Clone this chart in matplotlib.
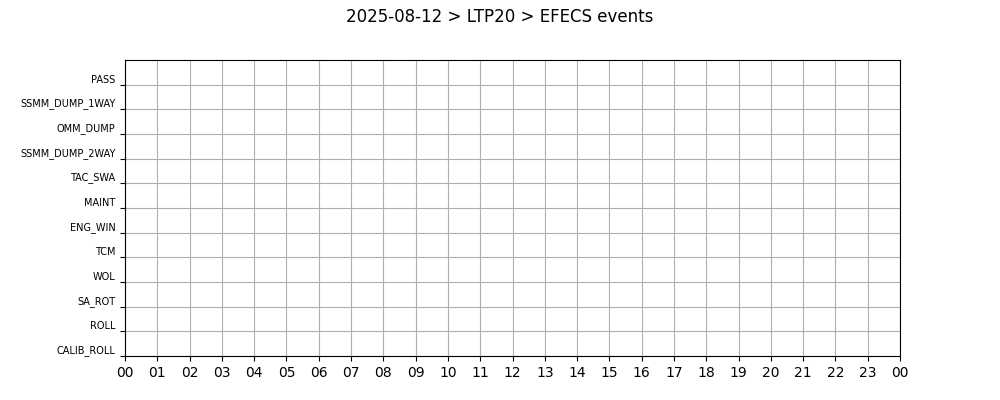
import matplotlib
matplotlib.use("Agg")
import matplotlib.pyplot as plt
import matplotlib.dates as mdates
from datetime import datetime, timedelta

day = "2025-08-12"
title = "2025-08-12 > LTP20 > EFECS events"
categories = ["CALIB_ROLL", "ROLL", "SA_ROT", "WOL", "TCM", "ENG_WIN",
              "MAINT", "TAC_SWA", "SSMM_DUMP_2WAY", "OMM_DUMP",
              "SSMM_DUMP_1WAY", "PASS"]

start = datetime.strptime(day, "%Y-%m-%d")
end = start + timedelta(days=1)

fig = plt.figure(figsize=(10, 4), dpi=100)
ax = fig.add_subplot(111)
fig.subplots_adjust(left=0.125, right=0.9, bottom=0.11, top=0.85)
fig.suptitle(title)

ax.set_xlim(start, end)
ax.set_ylim(0, len(categories))
ax.set_yticks(range(len(categories)))
ax.set_yticklabels(categories, fontsize=7, va="bottom")
ax.xaxis.set_major_locator(mdates.HourLocator(interval=1))
ax.xaxis.set_major_formatter(mdates.DateFormatter("%H"))
ax.grid(True, color="#b0b0b0")
ax.set_axisbelow(True)

fig.savefig("out.png", dpi=100)
